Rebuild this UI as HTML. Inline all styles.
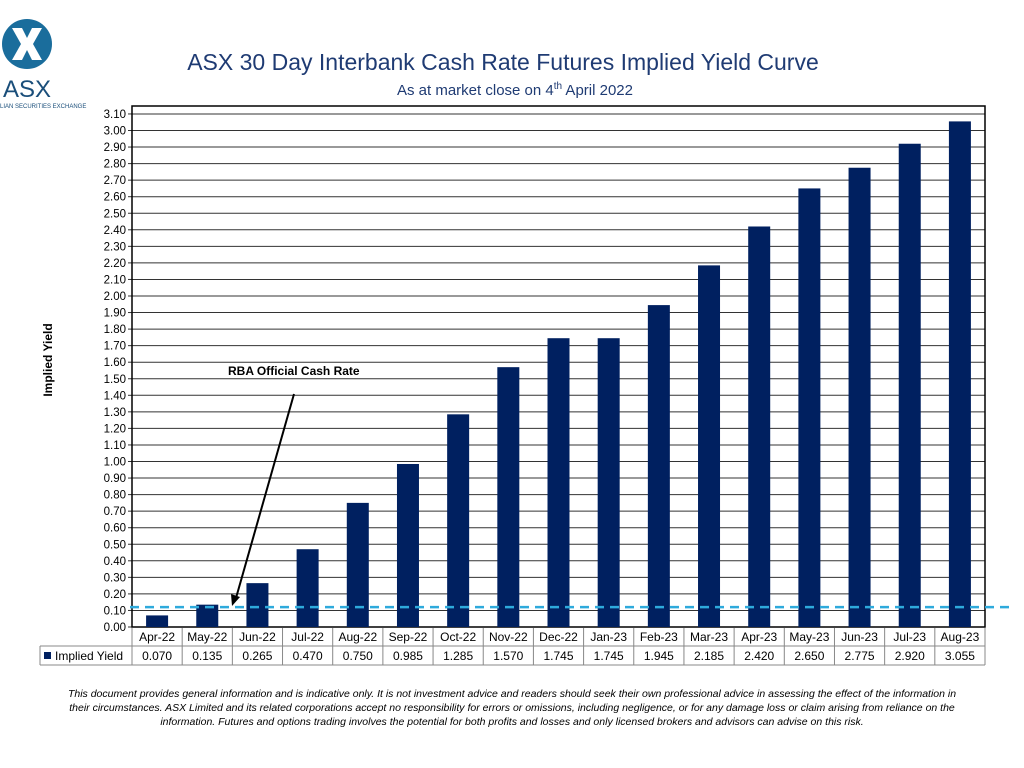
<!DOCTYPE html>
<html><head><meta charset="utf-8"><style>
body{margin:0;background:#fff;width:1024px;height:768px;overflow:hidden;font-family:"Liberation Sans",sans-serif}
svg{position:absolute;left:0;top:0}
</style></head><body>
<svg width="1024" height="768">
<g>
<circle cx="27" cy="44" r="25" fill="#1a6d9c"/>
<path d="M12 28 L22 28 L27 38 L32 28 L42 28 L33 44 L42 60 L32 60 L27 50 L22 60 L12 60 L21 44Z" fill="#fff"/>
<text x="27" y="97" font-size="24" fill="#1a4e7a" text-anchor="middle">ASX</text>
<text x="0" y="108" font-size="6" fill="#1a4e7a">LIAN SECURITIES EXCHANGE</text>
</g>
<text x="503" y="70" font-size="23" fill="#1f3b73" text-anchor="middle">ASX 30 Day Interbank Cash Rate Futures Implied Yield Curve</text>
<text x="515" y="95" font-size="15" fill="#1f3b73" text-anchor="middle">As at market close on 4<tspan font-size="10" dy="-6">th</tspan><tspan dy="6"> April 2022</tspan></text>
<text transform="translate(52,360) rotate(-90)" font-size="12" font-weight="bold" text-anchor="middle">Implied Yield</text>
<g id="plot"></g>
<text x="228" y="375" font-size="12" font-weight="bold">RBA Official Cash Rate</text>
<line x1="294" y1="394" x2="236" y2="598" stroke="#000" stroke-width="2"/>
<polygon points="232,606 231,594 240,597" fill="#000"/>
<g font-size="10.5" font-style="italic" text-anchor="middle">
<text x="512" y="697">This document provides general information and is indicative only. It is not investment advice and readers should seek their own professional advice in assessing the effect of the information in</text>
<text x="512" y="711">their circumstances. ASX Limited and its related corporations accept no responsibility for errors or omissions, including negligence, or for any damage loss or claim arising from reliance on the</text>
<text x="512" y="725">information. Futures and options trading involves the potential for both profits and losses and only licensed brokers and advisors can advise on this risk.</text>
</g>
</svg>
<script>
const categories=["Apr-22","May-22","Jun-22","Jul-22","Aug-22","Sep-22","Oct-22","Nov-22","Dec-22","Jan-23","Feb-23","Mar-23","Apr-23","May-23","Jun-23","Jul-23","Aug-23"];
const values=[0.070,0.135,0.265,0.470,0.750,0.985,1.285,1.570,1.745,1.745,1.945,2.185,2.420,2.650,2.775,2.920,3.055];
const valueLabels=["0.070","0.135","0.265","0.470","0.750","0.985","1.285","1.570","1.745","1.745","1.945","2.185","2.420","2.650","2.775","2.920","3.055"];
const cashRate=[0.12];
const yMax=3.1, yStep=0.1;
const L=132,R=985,T=106,B=627,Y0=627,PX=165.5;
const NS="http://www.w3.org/2000/svg";
const g=document.getElementById('plot');
function y(v){return Y0-v*PX;}
const cw=(R-L)/categories.length;
function x(i){return L+i*cw;}
function mk(t,a,p){const e=document.createElementNS(NS,t);for(const k in a)e.setAttribute(k,a[k]);(p||g).appendChild(e);return e;}
for(let i=0;i<=Math.round(yMax/yStep);i++){const v=i*yStep,yy=y(v);
const ln=mk('line',{x1:L,x2:R,y1:yy,y2:yy,stroke:'#333','stroke-width':1});


const t=mk('text',{x:L-6,y:yy+4,'font-size':11.5,'text-anchor':'end'});t.textContent=v.toFixed(2);


mk('line',{x1:L-4,x2:L,y1:yy,y2:yy,stroke:'#333'});}
const fr=mk('rect',{x:L,y:T,width:R-L,height:B-T,fill:'none',stroke:'#000','stroke-width':1.5});


values.forEach((v,i)=>{const b=mk('rect',{x:x(i)+cw/2-11,y:y(v),width:22,height:Y0-y(v),fill:'#002060'});

});
const dl=mk('line',{x1:L-2,x2:1015,y1:y(cashRate[0]),y2:y(cashRate[0]),stroke:'#2eaadc','stroke-width':2.5,'stroke-dasharray':'9,6'});


// table
const r1=628,r2=646,r3=665,tl=40;
mk('line',{x1:L,x2:R,y1:r2,y2:r2,stroke:'#888'});
mk('line',{x1:tl,x2:R,y1:r3,y2:r3,stroke:'#888'});
mk('line',{x1:tl,x2:L,y1:r2,y2:r2,stroke:'#888'});
mk('line',{x1:tl,x2:tl,y1:r2,y2:r3,stroke:'#888'});
mk('rect',{x:44,y:652,width:7,height:7,fill:'#002060'});
const lt=mk('text',{x:55,y:660,'font-size':12});lt.textContent='Implied Yield';


categories.forEach((c,i)=>{mk('line',{x1:x(i),x2:x(i),y1:r1,y2:r3,stroke:'#888'});
const t=mk('text',{x:x(i)+cw/2,y:641,'font-size':12,'text-anchor':'middle'});t.textContent=c;


const t2=mk('text',{x:x(i)+cw/2,y:660,'font-size':12,'text-anchor':'middle'});t2.textContent=valueLabels[i];

});
mk('line',{x1:R,x2:R,y1:r1,y2:r3,stroke:'#888'});
</script>
</body></html>
